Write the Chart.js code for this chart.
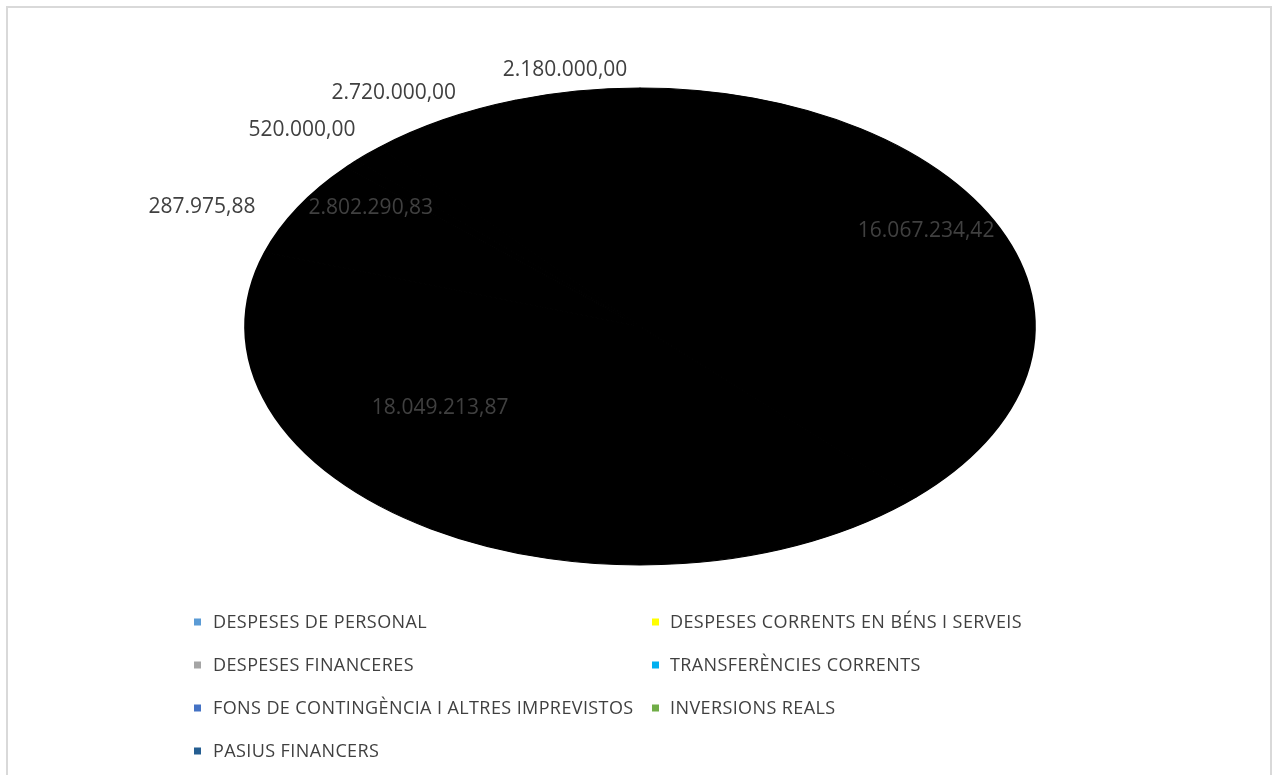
<!DOCTYPE html>
<html>
<head>
<meta charset="utf-8">
<script src="https://cdn.jsdelivr.net/npm/chart.js@4/dist/chart.umd.min.js"></script>
<style>
  html, body { margin: 0; padding: 0; background: #fff; }
  #wrap { position: relative; width: 1275px; height: 775px; }
</style>
</head>
<body>
<div id="wrap"><canvas id="c"></canvas></div>
<script>
// ---- data ----
const categories = [
  'DESPESES DE PERSONAL',
  'DESPESES CORRENTS EN BÉNS I SERVEIS',
  'DESPESES FINANCERES',
  'TRANSFERÈNCIES CORRENTS',
  'FONS DE CONTINGÈNCIA I ALTRES IMPREVISTOS',
  'INVERSIONS REALS',
  'PASIUS FINANCERS'
];
const values = [16067234.42, 18049213.87, 2802290.83, 287975.88, 520000.00, 2720000.00, 2180000.00];
const legendColors = ['#5B9BD5', '#FFFF00', '#A5A5A5', '#00B0F0', '#4472C4', '#70AD47', '#255E91'];

// ---- label placement (Excel best-fit), relative to each slice ----
const labelAngleShiftDeg = [-6.7, 24, 6.1, -18.7, -2.5, -2.6, -0.8];
const labelRadiusFrac   = [0.827, 0.611, 0.843, 1.217, 1.188, 1.160, 1.092];

const SX = 395 / 238.5; // horizontal stretch of the pie into an ellipse

function fmt(v) {
  const parts = v.toFixed(2).split('.');
  const intPart = parts[0].replace(/\B(?=(\d{3})+(?!\d))/g, '.');
  return intPart + ',' + parts[1];
}

const frame = {
  id: 'frame',
  beforeDraw(chart) {
    const ctx = chart.ctx;
    ctx.save();
    ctx.fillStyle = '#fff';
    ctx.fillRect(0, 0, chart.width, chart.height);
    ctx.strokeStyle = '#d9d9d9';
    ctx.lineWidth = 2;
    ctx.strokeRect(7, 7, 1264, 800);
    ctx.restore();
  }
};

const ellipse = {
  id: 'ellipse',
  beforeDatasetsDraw(chart) {
    const arc = chart.getDatasetMeta(0).data[0];
    const ctx = chart.ctx;
    ctx.save();
    ctx.translate(arc.x, arc.y);
    ctx.scale(SX, 1);
    ctx.translate(-arc.x, -arc.y);
  },
  afterDatasetsDraw(chart) {
    const ctx = chart.ctx;
    ctx.restore();
    // data labels
    const meta = chart.getDatasetMeta(0);
    ctx.save();
    ctx.font = '21px "Open Sans"';
    ctx.fillStyle = '#404040';
    ctx.textAlign = 'center';
    ctx.textBaseline = 'middle';
    meta.data.forEach((a, i) => {
      const p = a.getProps(['x', 'y', 'startAngle', 'endAngle', 'outerRadius'], true);
      const mid = (p.startAngle + p.endAngle) / 2 + labelAngleShiftDeg[i] * Math.PI / 180;
      const r = p.outerRadius * labelRadiusFrac[i];
      const x = p.x + Math.cos(mid) * r * SX;
      const y = p.y + Math.sin(mid) * r;
      ctx.fillText(fmt(chart.data.datasets[0].data[i]), x, y);
    });
    ctx.restore();
  }
};

const legendGrid = {
  id: 'legendGrid',
  afterDraw(chart) {
    const ctx = chart.ctx;
    const cols = [{ m: 194, t: 213 }, { m: 652, t: 670 }];
    const rowY0 = 622, rowDy = 43;
    ctx.save();
    ctx.font = '18px "Open Sans"';
    ctx.textBaseline = 'middle';
    ctx.textAlign = 'left';
    try { ctx.letterSpacing = '0.4px'; } catch (e) {}
    chart.data.labels.forEach((lab, i) => {
      const col = cols[i % 2];
      const y = rowY0 + Math.floor(i / 2) * rowDy;
      ctx.fillStyle = legendColors[i];
      ctx.fillRect(col.m, y - 3.5, 7, 7);
      ctx.fillStyle = '#404040';
      ctx.fillText(lab, col.t, y + 1);
    });
    ctx.restore();
  }
};

new Chart(document.getElementById('c'), {
  type: 'pie',
  data: {
    labels: categories,
    datasets: [{
      data: values,
      backgroundColor: '#000000',
      borderColor: '#000000',
      borderWidth: 1,
      hoverOffset: 0
    }]
  },
  options: {
    responsive: true,
    maintainAspectRatio: false,
    animation: false,
    layout: { padding: { top: 87.5, bottom: 209.5, left: 5, right: 0 } },
    plugins: {
      legend: { display: false },
      tooltip: { enabled: false }
    },
    events: []
  },
  plugins: [frame, ellipse, legendGrid]
});
</script>
</body>
</html>
